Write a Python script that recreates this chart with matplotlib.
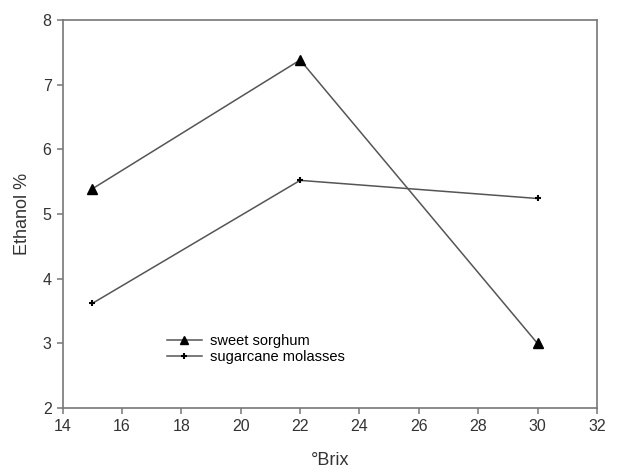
import matplotlib.pyplot as plt
from matplotlib.ticker import MultipleLocator

plt.rcParams['font.family'] = 'Liberation Sans'

brix = [15, 22, 30]
sweet_sorghum = [5.39, 7.38, 3.0]
sugarcane_molasses = [3.62, 5.52, 5.24]

COR_LINHA = '#555555'
COR_EIXO = '#777777'
COR_TEXTO = '#333333'

fig = plt.figure(figsize=(6.27, 4.73), dpi=100)
ax = fig.add_axes([0.100, 0.137, 0.852, 0.821])

ax.plot(brix, sweet_sorghum, color=COR_LINHA, linewidth=1.1, marker='^',
        markersize=7, markerfacecolor='black', markeredgecolor='black',
        label='sweet sorghum')
ax.plot(brix, sugarcane_molasses, color=COR_LINHA, linewidth=1.1, marker='+',
        markersize=5, markeredgewidth=1.5, markeredgecolor='black',
        label='sugarcane molasses')

ax.set_xlim(14, 32)
ax.set_ylim(2, 8)
ax.xaxis.set_major_locator(MultipleLocator(2))
ax.yaxis.set_major_locator(MultipleLocator(1))

for spine in ax.spines.values():
    spine.set_color(COR_EIXO)
    spine.set_linewidth(1.2)
ax.tick_params(direction='out', length=4, width=1.1, colors=COR_EIXO,
               labelcolor=COR_TEXTO, labelsize=11.5, pad=4)

ax.set_xlabel('°Brix', fontsize=13, color=COR_TEXTO, labelpad=13)
ax.set_ylabel('Ethanol %', fontsize=13, color=COR_TEXTO, labelpad=8)

ax.legend(loc='upper left', bbox_to_anchor=(0.17, 0.225), frameon=False,
          fontsize=10.5, handlelength=2.4, labelspacing=0.15, handletextpad=0.6,
          markerscale=0.8)

fig.savefig('out.png', dpi=100, facecolor='white')
